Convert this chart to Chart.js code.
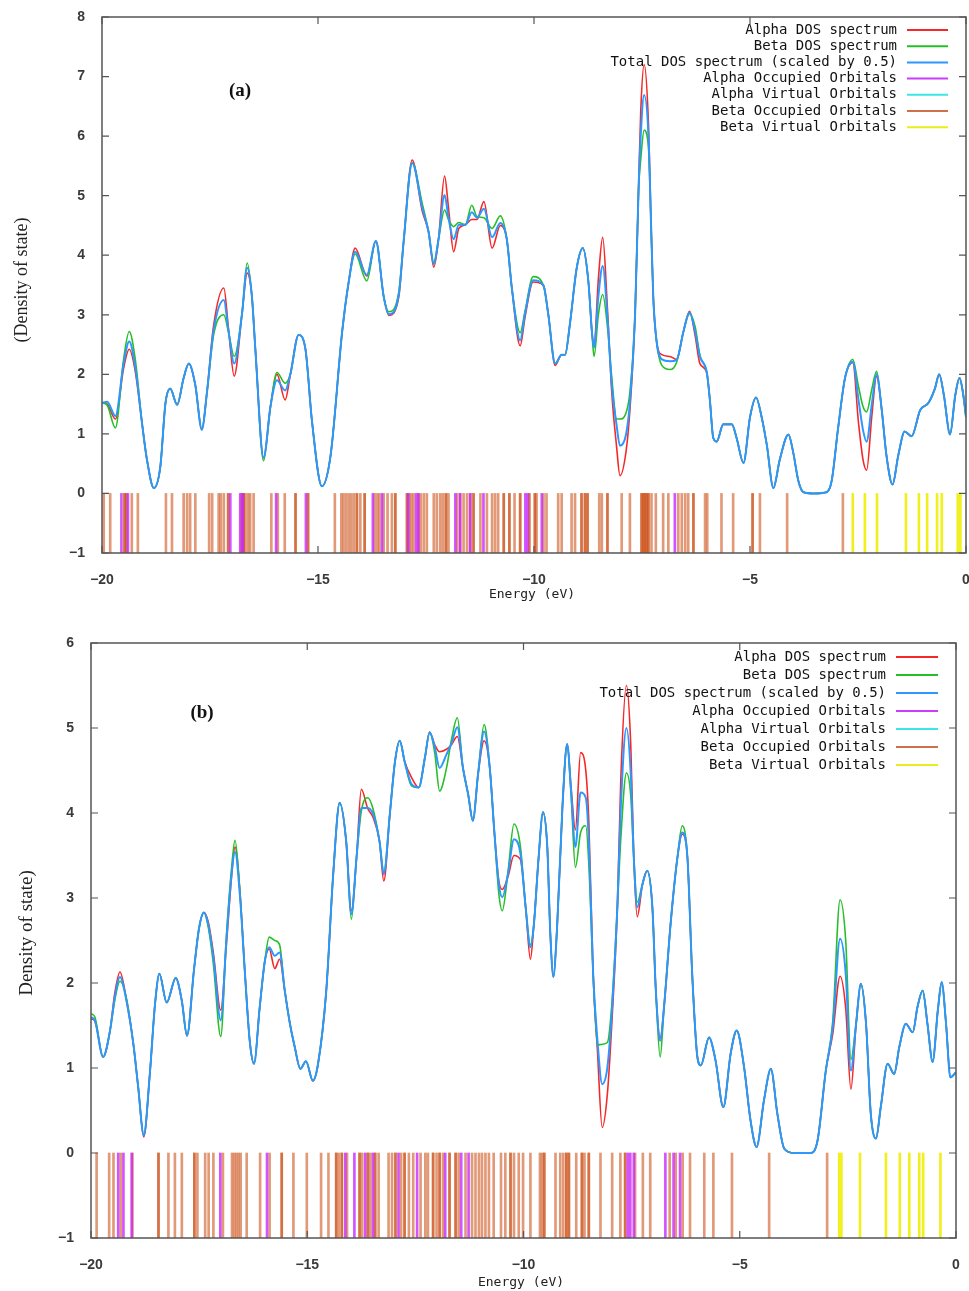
<!DOCTYPE html>
<html>
<head>
<meta charset="utf-8">
<title>DOS spectra</title>
<script src="https://cdn.jsdelivr.net/npm/chart.js@4.4.1/dist/chart.umd.min.js"></script>
<style>
  body { margin: 0; background: #fff; }
  canvas { display: block; }
</style>
</head>
<body>
<canvas id="dosA" width="969" height="610"></canvas>
<canvas id="dosB" width="969" height="681"></canvas>
<script>
// ---- panel (a) ----
const energyA = [
  -20.0,-19.88,-19.69,-19.5,-19.37,-19.23,-19.07,-18.96,-18.8,-18.65,
  -18.53,-18.42,-18.26,-18.11,-17.99,-17.84,-17.69,-17.57,-17.42,-17.18,
  -17.07,-16.94,-16.76,-16.64,-16.53,-16.45,-16.26,-16.1,-15.95,-15.76,
  -15.64,-15.45,-15.29,-15.14,-14.91,-14.71,-14.44,-14.29,-14.14,-13.87,
  -13.66,-13.48,-13.36,-13.13,-13.02,-12.82,-12.59,-12.44,-12.32,-12.21,
  -12.07,-11.98,-11.86,-11.74,-11.59,-11.44,-11.32,-11.16,-10.97,-10.78,
  -10.63,-10.51,-10.32,-10.21,-10.02,-9.78,-9.67,-9.51,-9.36,-9.28,
  -9.17,-9.01,-8.87,-8.74,-8.66,-8.61,-8.51,-8.41,-8.3,-8.2,
  -8.09,-8.01,-7.87,-7.78,-7.66,-7.58,-7.53,-7.45,-7.35,-7.29,
  -7.24,-7.16,-7.04,-6.85,-6.7,-6.54,-6.4,-6.27,-6.16,-6.0,
  -5.93,-5.85,-5.77,-5.62,-5.42,-5.31,-5.15,-5.0,-4.86,-4.73,
  -4.61,-4.46,-4.31,-4.11,-4.0,-3.88,-3.76,-3.53,-3.23,-3.11,
  -2.96,-2.8,-2.62,-2.49,-2.38,-2.3,-2.18,-2.07,-1.95,-1.84,
  -1.7,-1.57,-1.42,-1.26,-1.06,-0.87,-0.72,-0.62,-0.51,-0.37,
  -0.25,-0.15,-0.06,0.0
];
const totalA = [
  1.52,1.54,1.30,2.18,2.55,2.12,1.16,0.57,0.09,0.45,
  1.52,1.76,1.49,1.94,2.18,1.82,1.07,1.70,2.72,3.25,
  2.72,2.18,3.01,3.79,3.31,2.42,0.60,1.46,1.90,1.73,
  2.00,2.66,2.42,1.22,0.12,0.63,2.72,3.55,4.06,3.67,
  4.24,3.31,3.01,3.34,4.21,5.55,4.81,4.39,3.85,4.27,
  5.01,4.63,4.27,4.51,4.51,4.72,4.63,4.78,4.30,4.54,
  4.27,3.43,2.57,3.01,3.58,3.49,3.01,2.18,2.33,2.33,
  2.84,3.79,4.12,3.55,2.72,2.45,3.31,3.82,2.96,1.82,
  1.16,0.80,0.99,1.52,3.01,5.10,6.00,6.69,6.00,4.51,
  3.31,2.54,2.25,2.22,2.24,2.72,3.04,2.72,2.30,2.03,
  1.58,0.93,0.87,1.16,1.16,0.93,0.51,1.28,1.61,1.28,
  0.81,0.09,0.57,0.99,0.69,0.21,0.02,0.00,0.02,0.21,
  1.10,1.94,2.21,1.58,1.05,0.87,1.50,2.00,1.40,0.63,
  0.15,0.63,1.04,0.96,1.40,1.52,1.76,2.00,1.64,0.99,
  1.64,1.94,1.64,1.28
];
const alphaA = [
  1.52,1.50,1.25,2.10,2.42,2.05,1.16,0.57,0.09,0.45,
  1.52,1.76,1.49,1.94,2.18,1.82,1.07,1.70,2.80,3.45,
  2.75,1.97,3.01,3.70,3.31,2.42,0.60,1.46,2.00,1.57,
  2.00,2.66,2.42,1.22,0.12,0.63,2.72,3.55,4.12,3.65,
  4.24,3.31,2.99,3.30,4.21,5.60,4.75,4.39,3.80,4.27,
  5.33,4.80,4.06,4.45,4.51,4.60,4.60,4.90,4.12,4.50,
  4.27,3.43,2.48,2.95,3.55,3.49,3.01,2.15,2.33,2.33,
  2.84,3.79,4.12,3.55,2.72,2.50,3.60,4.30,3.10,1.70,
  0.80,0.30,0.70,1.40,3.01,5.10,6.40,7.20,6.20,4.51,
  3.31,2.54,2.33,2.30,2.25,2.72,3.06,2.65,2.18,2.03,
  1.58,0.93,0.87,1.16,1.16,0.93,0.51,1.28,1.61,1.28,
  0.81,0.09,0.57,0.99,0.69,0.21,0.02,0.00,0.02,0.21,
  1.10,1.94,2.20,1.20,0.55,0.39,1.30,1.97,1.40,0.63,
  0.15,0.63,1.04,0.96,1.40,1.52,1.76,2.00,1.64,0.99,
  1.64,1.94,1.64,1.28
];
const betaA = [
  1.52,1.48,1.10,2.25,2.72,2.25,1.16,0.57,0.09,0.45,
  1.52,1.76,1.49,1.94,2.18,1.82,1.07,1.70,2.65,3.00,
  2.70,2.30,3.01,3.87,3.31,2.42,0.55,1.46,2.03,1.85,
  2.00,2.66,2.42,1.22,0.12,0.63,2.72,3.55,4.02,3.57,
  4.24,3.31,3.05,3.38,4.21,5.55,4.88,4.39,3.88,4.27,
  4.76,4.60,4.48,4.55,4.51,4.84,4.65,4.63,4.45,4.66,
  4.27,3.43,2.70,3.05,3.64,3.49,3.01,2.18,2.33,2.33,
  2.84,3.79,4.12,3.55,2.72,2.30,3.00,3.34,2.80,1.95,
  1.25,1.25,1.35,1.70,3.01,5.10,5.60,6.10,5.80,4.51,
  3.31,2.54,2.15,2.08,2.20,2.72,3.02,2.80,2.32,2.03,
  1.58,0.93,0.87,1.16,1.16,0.93,0.51,1.28,1.61,1.28,
  0.81,0.09,0.57,0.99,0.69,0.21,0.02,0.00,0.02,0.21,
  1.10,1.94,2.25,1.80,1.45,1.37,1.75,2.05,1.40,0.63,
  0.15,0.63,1.04,0.96,1.40,1.52,1.76,2.00,1.64,0.99,
  1.64,1.94,1.64,1.28
];
// orbital energies (eV); repeated values = near-degenerate levels
const occBetaA = [
  -19.96,-19.81,-19.48,-19.48,-19.44,-19.44,-19.31,-19.17,
  -18.52,-18.38,-18.11,-18.03,-17.96,-17.84,-17.52,-17.45,-17.30,-17.25,-17.18,-17.08,-17.08,
  -16.76,-16.76,-16.72,-16.72,-16.68,-16.62,-16.57,-16.49,
  -16.08,-15.93,-15.77,-15.52,-15.52,-15.23,-15.23,
  -14.61,-14.46,-14.41,-14.35,-14.29,-14.23,-14.17,-14.10,-14.10,-14.02,-13.92,-13.92,
  -13.69,-13.63,-13.58,-13.48,-13.39,-13.29,-13.21,-13.21,
  -12.94,-12.94,-12.89,-12.84,-12.79,-12.67,-12.62,-12.55,-12.48,-12.32,-12.25,-12.17,-12.11,-12.04,-12.04,-11.98,
  -11.78,-11.71,-11.63,-11.55,-11.47,-11.40,-11.40,-11.24,-11.09,-10.97,-10.90,-10.83,-10.70,-10.70,-10.57,-10.57,-10.45,
  -10.32,-10.32,-10.11,-10.11,-9.98,-9.98,-9.94,-9.78,-9.71,-9.44,-9.36,-9.13,-9.05,
  -8.90,-8.90,-8.82,-8.82,-8.76,-8.76,-8.49,-8.43,-8.30,-8.30,-7.97,-7.78,
  -7.51,-7.51,-7.47,-7.47,-7.43,-7.43,-7.39,-7.39,-7.35,-7.35,-7.28,-7.18,-7.01,-6.89,
  -6.66,-6.58,-6.50,-6.43,-6.31,-6.31,-6.04,-5.99,-5.66,-5.39,-4.94,-4.94,-4.77,-4.14,-2.85
];
const occAlphaA = [-19.55,-19.40,-17.03,-16.80,-16.74,-15.97,-15.28,-13.73,-13.52,-12.91,-12.73,-12.68,
  -11.82,-11.71,-11.48,-11.17,-10.20,-10.15,-9.82,-6.74];
const virtAlphaA = [];
const virtBetaA = [-2.62,-2.34,-2.06,-1.39,-1.09,-0.90,-0.67,-0.56,-0.19,-0.13];

// ---- panel (b) ----
const energyB = [
  -20.0,-19.91,-19.72,-19.56,-19.45,-19.33,-19.18,-19.02,-18.91,-18.78,
  -18.64,-18.52,-18.42,-18.25,-18.04,-17.9,-17.78,-17.62,-17.5,-17.39,
  -17.29,-17.17,-17.0,-16.87,-16.75,-16.67,-16.56,-16.44,-16.33,-16.23,
  -16.1,-15.98,-15.88,-15.75,-15.64,-15.52,-15.4,-15.29,-15.16,-15.03,
  -14.87,-14.75,-14.56,-14.4,-14.25,-14.1,-13.98,-13.86,-13.75,-13.6,
  -13.48,-13.33,-13.23,-13.09,-12.97,-12.86,-12.75,-12.59,-12.42,-12.28,
  -12.17,-12.05,-11.94,-11.78,-11.67,-11.53,-11.4,-11.28,-11.17,-11.05,
  -10.91,-10.78,-10.67,-10.57,-10.49,-10.36,-10.22,-10.07,-9.95,-9.84,
  -9.76,-9.65,-9.55,-9.45,-9.38,-9.31,-9.22,-9.1,-8.99,-8.9,
  -8.8,-8.68,-8.56,-8.49,-8.39,-8.29,-8.18,-8.06,-7.95,-7.83,
  -7.75,-7.62,-7.52,-7.45,-7.37,-7.25,-7.14,-7.02,-6.94,-6.84,
  -6.75,-6.6,-6.44,-6.33,-6.21,-6.1,-5.98,-5.9,-5.71,-5.56,
  -5.38,-5.21,-5.07,-4.9,-4.75,-4.61,-4.44,-4.28,-4.13,-3.97,
  -3.74,-3.36,-3.2,-3.01,-2.85,-2.68,-2.55,-2.43,-2.31,-2.2,
  -2.08,-1.97,-1.85,-1.74,-1.58,-1.43,-1.31,-1.16,-1.0,-0.89,
  -0.77,-0.66,-0.54,-0.42,-0.33,-0.23,-0.13,0.0
];
const totalB = [
  1.60,1.56,1.13,1.44,1.83,2.07,1.79,1.28,0.78,0.21,
  0.93,1.75,2.11,1.77,2.06,1.79,1.38,2.15,2.65,2.83,
  2.69,2.30,1.56,2.50,3.28,3.54,3.05,2.11,1.32,1.05,
  1.71,2.26,2.42,2.32,2.36,1.91,1.52,1.25,0.99,1.08,
  0.85,1.05,1.91,3.28,4.12,3.67,2.81,3.48,4.06,4.06,
  3.99,3.67,3.28,3.99,4.61,4.85,4.61,4.34,4.30,4.65,
  4.95,4.77,4.53,4.69,4.81,5.01,4.53,4.22,3.91,4.46,
  4.96,4.53,3.75,3.16,3.01,3.28,3.69,3.52,2.89,2.42,
  2.69,3.48,4.01,3.60,2.58,2.07,2.69,4.07,4.81,4.26,
  3.60,4.24,4.18,3.67,2.11,1.32,0.81,1.01,1.72,2.89,
  4.07,5.00,4.46,3.48,2.89,3.16,3.32,2.89,1.91,1.32,
  1.72,2.69,3.48,3.77,3.48,2.11,1.13,1.03,1.36,1.09,
  0.54,1.17,1.44,1.01,0.38,0.07,0.62,0.99,0.46,0.05,
  0.00,0.00,0.15,0.97,1.48,2.52,2.11,0.97,1.52,1.99,
  1.52,0.46,0.17,0.54,1.05,0.93,1.25,1.52,1.42,1.72,
  1.91,1.52,1.07,1.68,2.01,1.52,0.89,0.95
];
const alphaB = [
  1.58,1.55,1.13,1.44,1.88,2.13,1.80,1.28,0.78,0.19,
  0.93,1.75,2.11,1.77,2.06,1.79,1.38,2.15,2.65,2.83,
  2.72,2.35,1.68,2.45,3.25,3.60,3.10,2.11,1.32,1.05,
  1.71,2.26,2.40,2.17,2.28,1.91,1.52,1.25,0.99,1.08,
  0.85,1.05,1.91,3.28,4.12,3.67,2.85,3.48,4.28,4.05,
  3.95,3.67,3.20,3.99,4.61,4.85,4.61,4.42,4.30,4.65,
  4.95,4.80,4.72,4.75,4.80,4.90,4.53,4.22,3.91,4.46,
  4.85,4.53,3.75,3.20,3.10,3.25,3.50,3.45,2.89,2.28,
  2.69,3.48,4.01,3.60,2.58,2.07,2.69,4.07,4.81,4.30,
  3.80,4.71,4.50,3.90,2.11,1.20,0.30,0.70,1.60,2.89,
  4.40,5.50,4.80,3.48,2.78,3.16,3.32,2.89,1.91,1.35,
  1.72,2.69,3.48,3.75,3.48,2.11,1.13,1.03,1.36,1.09,
  0.54,1.17,1.44,1.01,0.38,0.07,0.62,0.99,0.46,0.05,
  0.00,0.00,0.15,0.97,1.40,2.08,1.70,0.75,1.52,1.99,
  1.52,0.46,0.17,0.54,1.05,0.93,1.25,1.52,1.42,1.72,
  1.91,1.52,1.07,1.68,2.01,1.52,0.89,0.95
];
const betaB = [
  1.64,1.60,1.13,1.44,1.80,2.02,1.82,1.28,0.78,0.21,
  0.93,1.75,2.11,1.77,2.06,1.79,1.38,2.15,2.65,2.83,
  2.66,2.22,1.37,2.55,3.35,3.68,3.10,2.11,1.32,1.05,
  1.71,2.26,2.54,2.50,2.45,1.91,1.52,1.25,0.99,1.08,
  0.85,1.05,1.91,3.28,4.12,3.67,2.75,3.48,4.02,4.18,
  4.05,3.67,3.30,3.99,4.61,4.85,4.61,4.32,4.30,4.65,
  4.95,4.70,4.26,4.53,4.85,5.12,4.53,4.22,3.91,4.46,
  5.04,4.53,3.75,3.05,2.85,3.30,3.87,3.60,2.89,2.45,
  2.69,3.48,4.01,3.60,2.58,2.07,2.69,4.07,4.81,4.22,
  3.36,3.77,3.85,3.40,2.11,1.27,1.28,1.30,1.80,2.89,
  3.70,4.47,4.20,3.48,2.95,3.16,3.32,2.89,1.91,1.13,
  1.72,2.69,3.48,3.85,3.48,2.11,1.13,1.03,1.36,1.09,
  0.54,1.17,1.44,1.01,0.38,0.07,0.62,0.99,0.46,0.05,
  0.00,0.00,0.15,0.97,1.55,2.98,2.50,1.10,1.52,1.99,
  1.52,0.46,0.17,0.54,1.05,0.93,1.25,1.52,1.42,1.72,
  1.91,1.52,1.07,1.68,2.01,1.52,0.89,0.95
];
const occBetaB = [
  -19.87,-19.58,-19.48,-19.31,-19.04,-18.44,-18.44,-18.21,-18.06,-17.90,-17.61,-17.61,-17.54,-17.36,-17.28,-17.17,-16.95,
  -16.74,-16.69,-16.64,-16.59,-16.54,-16.40,-16.09,-15.87,-15.59,-15.59,-15.32,-15.01,-14.68,-14.51,
  -14.33,-14.33,-14.27,-14.20,-14.20,-14.08,-13.79,-13.79,-13.73,-13.60,-13.60,-13.54,-13.43,-13.43,-13.35,
  -13.12,-13.04,-12.96,-12.96,-12.83,-12.75,-12.75,-12.65,-12.55,-12.38,-12.27,-12.21,-12.09,-12.09,-12.01,
  -11.94,-11.94,-11.86,-11.71,-11.71,-11.57,-11.57,-11.50,-11.34,-11.19,-11.11,-11.03,-10.96,-10.88,-10.80,-10.69,
  -10.52,-10.42,-10.30,-10.30,-10.22,-10.11,-10.01,-9.84,-9.62,-9.57,-9.52,-9.52,-9.26,-9.15,-9.08,
  -9.01,-9.01,-8.95,-8.95,-8.78,-8.65,-8.65,-8.59,-8.49,-8.49,-8.22,-7.95,-7.76,-7.65,-7.65,
  -7.42,-7.24,-7.07,-6.62,-6.48,-6.32,-6.15,-5.82,-5.61,-5.18,-4.32,-2.98
];
const occAlphaB = [-19.37,-19.25,-19.06,-17.01,-15.93,-14.12,-13.91,-13.66,-13.48,-12.89,-12.46,
  -11.81,-11.44,-11.27,-7.59,-7.53,-7.45,-6.72,-6.53,-6.38];
const virtAlphaB = [];
const virtBetaB = [-2.70,-2.65,-2.22,-1.62,-1.30,-1.08,-0.85,-0.76,-0.36];

const legendLabels = [
  "Alpha DOS spectrum",
  "Beta DOS spectrum",
  "Total DOS spectrum (scaled by 0.5)",
  "Alpha Occupied Orbitals",
  "Alpha Virtual Orbitals",
  "Beta Occupied Orbitals",
  "Beta Virtual Orbitals"
];

const MONO = '"DejaVu Sans Mono", monospace';
const TICK_FONT = { family: "'Liberation Sans', sans-serif", size: 14, weight: "bold" };

function curve(energy, vals) {
  return energy.map((e, i) => ({ x: e, y: vals[i] }));
}
function sticks(list) {
  return list.map(e => ({ x: e, y: [-1, 0] }));
}
function tickText(v) {
  return v < 0 ? "\u2212" + Math.abs(v) : String(v);
}

// gnuplot-like frame, inward ticks, legend and labels
const gnuDecor = {
  id: "gnuDecor",
  afterDraw(chart, args, o) {
    const { ctx, chartArea: a, scales } = chart;
    ctx.save();
    ctx.strokeStyle = "#555";
    ctx.lineWidth = 1.5;
    ctx.strokeRect(a.left, a.top, a.right - a.left, a.bottom - a.top);
    ctx.lineWidth = 1.2;
    ctx.beginPath();
    scales.x.ticks.forEach(t => {
      const px = scales.x.getPixelForValue(t.value);
      ctx.moveTo(px, a.bottom); ctx.lineTo(px, a.bottom - 7);
      ctx.moveTo(px, a.top); ctx.lineTo(px, a.top + 7);
    });
    scales.y.ticks.forEach(t => {
      const py = scales.y.getPixelForValue(t.value);
      ctx.moveTo(a.left, py); ctx.lineTo(a.left + 7, py);
      ctx.moveTo(a.right, py); ctx.lineTo(a.right - 7, py);
    });
    ctx.stroke();

    // legend
    ctx.font = "14px " + MONO;
    ctx.textAlign = "right";
    ctx.textBaseline = "middle";
    chart.data.datasets.forEach((ds, i) => {
      const y = o.legendY + i * o.legendStep;
      ctx.fillStyle = "#111";
      ctx.fillText(ds.label, o.legendTextX, y);
      ctx.strokeStyle = ds.legendColor;
      ctx.lineWidth = 2;
      ctx.beginPath();
      ctx.moveTo(o.legendLineX1, y); ctx.lineTo(o.legendLineX2, y);
      ctx.stroke();
    });

    // x title
    ctx.fillStyle = "#222";
    ctx.textAlign = "center";
    ctx.font = "13px " + MONO;
    ctx.fillText("Energy (eV)", o.xTitleX, o.xTitleY);

    // panel letter
    ctx.font = "bold 19px 'Liberation Serif', serif";
    ctx.fillStyle = "#111";
    ctx.fillText(o.letter, o.letterX, o.letterY);

    // y title
    ctx.translate(o.yTitleX, o.yTitleY);
    ctx.rotate(-Math.PI / 2);
    ctx.font = o.yTitleSize + "px 'Liberation Serif', serif";
    ctx.fillStyle = "#222";
    ctx.fillText(o.yTitle, 0, 0);
    ctx.restore();
  }
};

function makeChart(id, d) {
  const datasets = [
    { type: "line", label: legendLabels[0], data: curve(d.energy, d.alpha), borderColor: "rgb(245,40,40)",
      legendColor: "rgb(245,40,40)", borderWidth: 1.6, order: 3 },
    { type: "line", label: legendLabels[1], data: curve(d.energy, d.beta), borderColor: "rgb(40,190,40)",
      legendColor: "rgb(40,190,40)", borderWidth: 1.6, order: 2 },
    { type: "line", label: legendLabels[2], data: curve(d.energy, d.total), borderColor: "rgb(45,150,255)",
      legendColor: "rgb(45,150,255)", borderWidth: 2, order: 1 },
    { type: "bar", label: legendLabels[3], data: sticks(d.occAlpha), backgroundColor: "rgba(200,40,255,0.8)",
      legendColor: "rgb(204,60,255)", order: 4 },
    { type: "bar", label: legendLabels[4], data: sticks(d.virtAlpha), backgroundColor: "rgb(60,230,230)",
      legendColor: "rgb(60,230,230)", order: 5 },
    { type: "bar", label: legendLabels[5], data: sticks(d.occBeta), backgroundColor: "rgba(205,85,30,0.6)",
      legendColor: "rgb(208,112,74)", order: 6 },
    { type: "bar", label: legendLabels[6], data: sticks(d.virtBeta), backgroundColor: "rgb(240,240,30)",
      legendColor: "rgb(235,235,30)", order: 7 }
  ];
  datasets.forEach(ds => {
    if (ds.type === "line") {
      ds.pointRadius = 0;
      ds.cubicInterpolationMode = "monotone";
      ds.fill = false;
    } else {
      ds.barThickness = 2;
      ds.grouped = false;
      ds.borderWidth = 0;
    }
  });

  return new Chart(document.getElementById(id), {
    type: "scatter",
    data: { datasets },
    options: {
      responsive: false,
      animation: false,
      layout: { padding: d.padding },
      plugins: { legend: { display: false }, tooltip: { enabled: false }, gnuDecor: d.decor },
      scales: {
        x: {
          type: "linear", min: -20, max: 0, offset: false,
          grid: { display: false, offset: false }, border: { display: false },
          ticks: { stepSize: 5, padding: 11, color: "#3a3a3a", font: TICK_FONT, callback: tickText },
          afterFit: s => { s.height = d.xAxisHeight; s.paddingLeft = 0; s.paddingRight = 0; }
        },
        y: {
          type: "linear", min: -1, max: d.yMax,
          grid: { display: false }, border: { display: false },
          ticks: { stepSize: 1, padding: 9, color: "#3a3a3a", font: TICK_FONT, callback: tickText },
          afterFit: s => { s.width = d.yAxisWidth; s.paddingTop = 0; s.paddingBottom = 0; }
        }
      }
    },
    plugins: [gnuDecor]
  });
}

makeChart("dosA", {
  energy: energyA, total: totalA, alpha: alphaA, beta: betaA,
  occAlpha: occAlphaA, virtAlpha: virtAlphaA, occBeta: occBetaA, virtBeta: virtBetaA,
  yMax: 8, yAxisWidth: 102, xAxisHeight: 57,
  padding: { top: 17, right: 3, bottom: 0, left: 0 },
  decor: {
    letter: "(a)", letterX: 240, letterY: 91,
    yTitle: "(Density of state)", yTitleX: 22, yTitleY: 280, yTitleSize: 18,
    xTitleX: 532, xTitleY: 595,
    legendTextX: 897, legendLineX1: 907, legendLineX2: 948, legendY: 30, legendStep: 16.2
  }
});

makeChart("dosB", {
  energy: energyB, total: totalB, alpha: alphaB, beta: betaB,
  occAlpha: occAlphaB, virtAlpha: virtAlphaB, occBeta: occBetaB, virtBeta: virtBetaB,
  yMax: 6, yAxisWidth: 91, xAxisHeight: 53,
  padding: { top: 33, right: 13, bottom: 0, left: 0 },
  decor: {
    letter: "(b)", letterX: 202, letterY: 103,
    yTitle: "Density of state)", yTitleX: 27, yTitleY: 323, yTitleSize: 19,
    xTitleX: 521, xTitleY: 673,
    legendTextX: 886, legendLineX1: 896, legendLineX2: 938, legendY: 47, legendStep: 18
  }
});
</script>
</body>
</html>
